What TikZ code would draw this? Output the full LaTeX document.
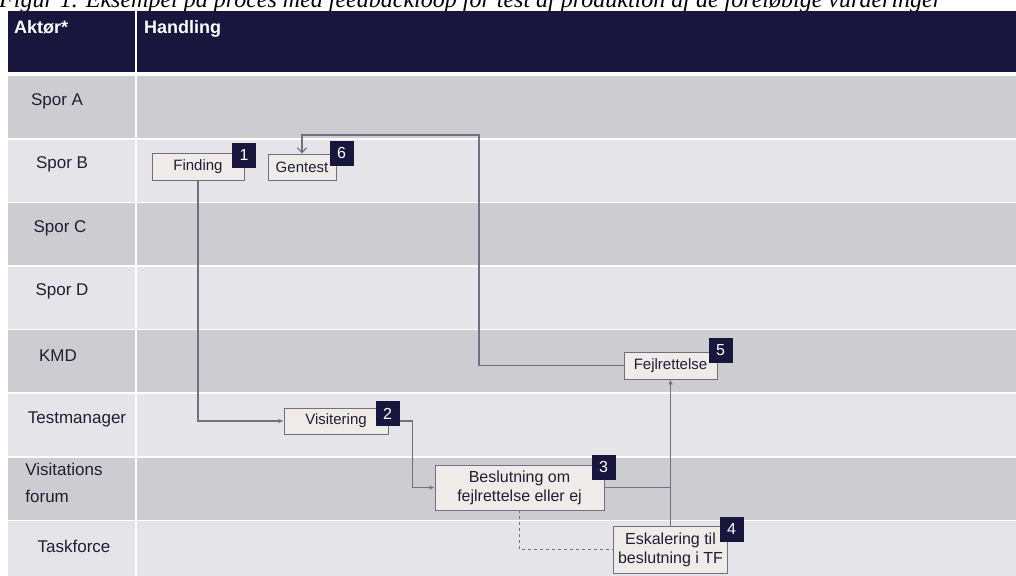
\documentclass[tikz,border=0pt]{standalone}
\usepackage{fontspec}
\setmainfont{Liberation Sans}
\newfontfamily\capfont{Liberation Serif}
\usetikzlibrary{arrows.meta}

\definecolor{navy}{RGB}{24,22,60}
\definecolor{rowdark}{RGB}{205,205,209}
\definecolor{rowlight}{RGB}{229,229,233}
\definecolor{boxfill}{RGB}{238,235,232}
\definecolor{linegray}{RGB}{112,112,128}
\definecolor{labtext}{RGB}{30,30,52}

\begin{document}
\begin{tikzpicture}[x=1pt, y=-1pt]

\tikzstyle{stepbox}=[rectangle, draw=linegray, fill=boxfill, line width=0.9pt, inner sep=0pt, align=center, text=labtext, font=\fontsize{15}{18}\selectfont]
\tikzstyle{bigbox}=[stepbox, font=\fontsize{16}{19}\selectfont]
\tikzstyle{badge}=[rectangle, fill=navy, minimum width=24pt, minimum height=25pt, inner sep=0pt, text=white, font=\fontsize{16}{18}\selectfont]
\tikzstyle{rowlab}=[align=left, text=labtext, font=\fontsize{17}{27}\selectfont]
\tikzstyle{headtext}=[anchor=base west, inner sep=0pt, text=white, font=\bfseries\fontsize{18}{20}\selectfont]
\tikzstyle{flow}=[draw=linegray, line width=1.1pt, -{Latex[length=5pt,width=4.5pt]}]
\tikzstyle{plain}=[draw=linegray, line width=1.1pt]

\useasboundingbox (0,0) rectangle (1016,575);
\fill[white] (0,0) rectangle (1016,575);

% caption, cut at the top
\node (caption) [anchor=base west, inner sep=0pt, font=\capfont\itshape\fontsize{24}{26}\selectfont] at (-1,7.5)
  {Figur 1. Eksempel på proces med feedbackloop for test af produktion af de foreløbige vurderinger};

% header
\fill[navy] (8,11) rectangle (135,72);
\fill[navy] (137,11) rectangle (1016,72);
\node (aktor) [headtext] at (14,34) {Aktør*};
\node (handling) [headtext] at (144,34) {Handling};

% swim lanes
\foreach \i/\lab/\lx/\fc in {0/Spor A/57/rowdark, 1/Spor B/62/rowlight, 2/Spor C/60/rowdark,
    3/Spor D/62/rowlight, 4/KMD/58/rowdark, 5/Testmanager/77/rowlight,
    6/{Visitations\\forum}/64/rowdark, 7/Taskforce/74/rowlight} {
  \fill[\fc] (8,76+\i*63.6) rectangle (135,138+\i*63.6);
  \fill[\fc] (137,76+\i*63.6) rectangle (1016,138+\i*63.6);
  \node (lab\i) [rowlab] at (\lx,101+\i*63.6) {\lab};
}

% steps
\node (finding) [stepbox, minimum width=92pt, minimum height=27pt] at (198,166.5) {Finding};
\node (gentest) [stepbox, minimum width=68pt, minimum height=26pt] at (302,167) {Gentest};
\node (visit) [stepbox, minimum width=104pt, minimum height=26pt] at (336,421) {Visitering};
\node (besl) [bigbox, minimum width=169pt, minimum height=45pt] at (519.5,487.5) {Beslutning om\\fejlrettelse eller ej};
\node (eskal) [bigbox, minimum width=114pt, minimum height=47pt] at (670.5,549.5) {Eskalering til\\beslutning i TF};
\node (fejl) [stepbox, minimum width=93pt, minimum height=27pt] at (670.5,365.5) {Fejlrettelse};

% connectors
\coordinate (loop) at (479,135);
\draw [flow] (finding.south) |- (visit.west);
\draw [flow] (visit.east) -- ++(24,0) |- (besl.west);
\draw [plain] (besl.east) -| (fejl.south);
\draw [flow] (eskal.north) -- (fejl.south);
\draw [plain, dashed] (besl.south) |- (eskal.west);
\draw [plain, -{Straight Barb[length=5pt,width=9pt]}] (fejl.west) -| (loop) -| (gentest.north);

% step numbers
\node (b1) [badge] at (244,155) {1};
\node (b6) [badge] at (341.5,153) {6};
\node (b2) [badge] at (387.5,413.5) {2};
\node (b3) [badge] at (603.5,467) {3};
\node (b4) [badge] at (731.5,529) {4};
\node (b5) [badge] at (720.5,350.5) {5};

\end{tikzpicture}
\end{document}
